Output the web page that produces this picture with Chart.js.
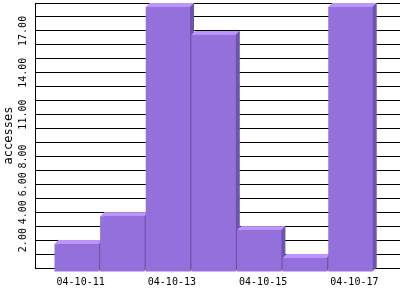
<!DOCTYPE html>
<html>
<head>
<meta charset="utf-8">
<script src="https://cdn.jsdelivr.net/npm/chart.js@4/dist/chart.umd.min.js"></script>
<style>
body{margin:0;background:#fff}
</style>
</head>
<body>
<canvas id="c" width="400" height="300"></canvas>
<script>

// data
let days = ["04-10-11","04-10-12","04-10-13","04-10-14","04-10-15","04-10-16","04-10-17"]
let accesses = [2,4,19,17,3,1,19]
let yTickValues = [2,4,6,8,11,14,17]
let yTickLabels = ["2.00","4.00","6.00","8.00","11.00","14.00","17.00"]
let xTickValues = [0,2,4,6]

let front = "#9370db"
let top3d = "#bd95fa"
let side = "#6c55ad"
let depth = 4

let bars3d = {
id:"bars3d",
afterDatasetsDraw(chart){
let ctx = chart.ctx
chart.getDatasetMeta(0).data.forEach(bar=>{
let p = bar.getProps(["x","y","base","width"],true)
let l = p.x-p.width/2, r = p.x+p.width/2, t = p.y, b = p.base
ctx.save()
ctx.fillStyle = top3d
ctx.beginPath()
ctx.moveTo(l-depth,t+depth); ctx.lineTo(l,t); ctx.lineTo(r,t); ctx.lineTo(r-depth,t+depth)
ctx.closePath(); ctx.fill()
ctx.fillStyle = side
ctx.beginPath()
ctx.moveTo(r-depth,t+depth); ctx.lineTo(r,t); ctx.lineTo(r,b); ctx.lineTo(r-depth,b+depth)
ctx.closePath(); ctx.fill()
ctx.fillStyle = front
ctx.fillRect(l-depth,t+depth,p.width,b-t)
ctx.restore()
})
}
}

new Chart(document.getElementById("c"),{
type:"bar",
data:{
datasets:[{
label:"accesses",
data:accesses.map((v,i)=>({x:i,y:v})),
backgroundColor:front,
borderWidth:0,
barPercentage:0.97,
categoryPercentage:1
}]
},
options:{
responsive:false,
animation:false,
layout:{padding:{top:0,right:0,bottom:4,left:0}},
plugins:{legend:{display:false},tooltip:{enabled:false}},
scales:{
x:{
type:"linear",
min:-1,
max:7,
offset:false,
z:1,
afterBuildTicks:s=>{ s.ticks = xTickValues.map(v=>({value:v})) },
grid:{display:false,drawTicks:false,offset:false},
border:{display:true,color:"#000",width:1},
ticks:{
autoSkip:false,maxRotation:0,padding:8,color:"#000",
font:{family:"DejaVu Sans Mono",size:10},
callback:v=>days[v]
}
},
y:{
min:0,
max:19,
afterBuildTicks:s=>{ let t=[]; for(let v=0;v<=19;v++) t.push({value:v}); s.ticks=t },
afterFit:s=>{ s.width = 35 },
grid:{color:"#000",lineWidth:1,drawTicks:false},
border:{display:true,color:"#000",width:1},
ticks:{
autoSkip:false,minRotation:90,maxRotation:90,crossAlign:"center",padding:-3,color:"#000",
font:{family:"DejaVu Sans Mono",size:10},
callback:v=>{ let k=yTickValues.indexOf(v); return k<0 ? "" : yTickLabels[k] }
},
title:{display:true,text:"accesses",color:"#000",padding:{top:2,bottom:0},
font:{family:"DejaVu Sans Mono",size:12,weight:"normal"}}
}
}
},
plugins:[bars3d]
})

</script>
</body>
</html>
